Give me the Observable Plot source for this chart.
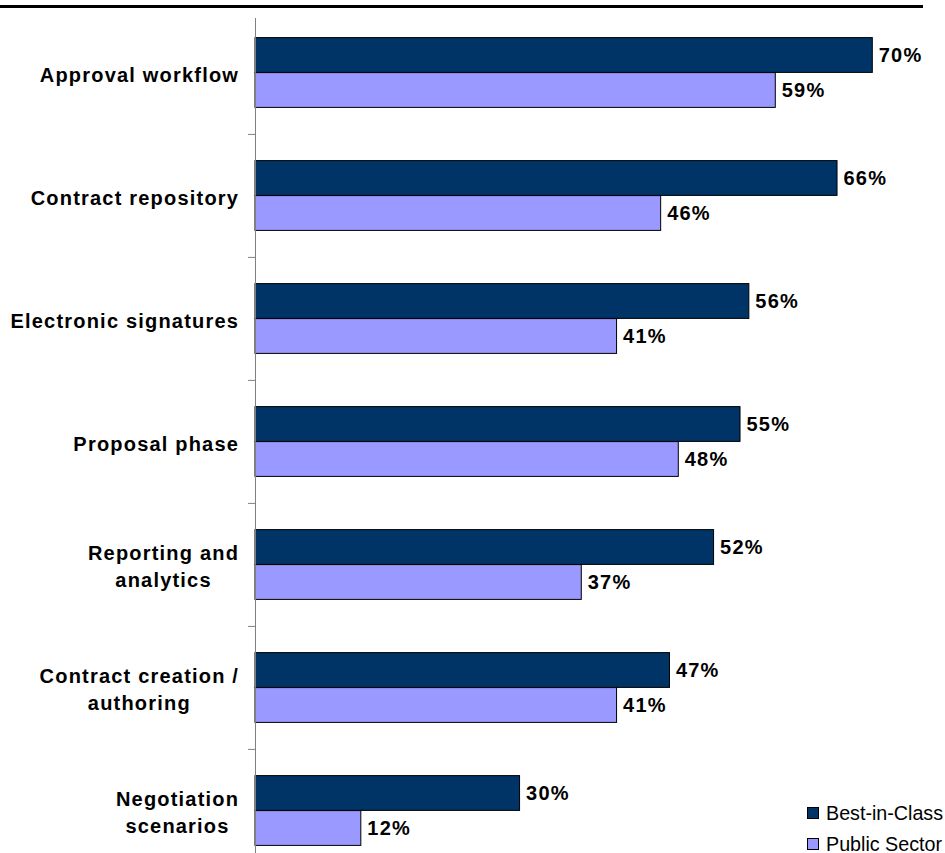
<!DOCTYPE html>
<html>
<head>
<meta charset="utf-8">
<script src="https://cdn.jsdelivr.net/npm/d3@7"></script>
<script src="https://cdn.jsdelivr.net/npm/@observablehq/plot@0.6"></script>
<style>
  html, body { margin: 0; padding: 0; background: #fff; }
  #wrap { position: relative; width: 945px; height: 853px; overflow: hidden; font-family: "Liberation Sans", Arial, sans-serif; }
  #topline { position: absolute; left: 0; top: 5px; width: 923px; height: 3px; background: #000; }
  .leg-row { position: absolute; left: 807px; height: 22px; display: flex; align-items: center; font-size: 19.7px; color: #000; white-space: nowrap; }
  .leg-sw { width: 10px; height: 10px; border: 1px solid #000; margin-right: 7px; flex: none; }
</style>
</head>
<body>
<div id="wrap"></div>
<script>
const categories = [
  "Approval workflow",
  "Contract repository",
  "Electronic signatures",
  "Proposal phase",
  "Reporting and\nanalytics",
  "Contract creation /\nauthoring",
  "Negotiation\nscenarios"
];
const series = ["Best-in-Class", "Public Sector"];
const bestInClass = [70, 66, 56, 55, 52, 47, 30];
const publicSector = [59, 46, 41, 48, 37, 41, 12];
const colors = ["#003366", "#9999FF"];

const best = categories.map((c, i) => ({category: c, series: series[0], value: bestInClass[i]}));
const pub = categories.map((c, i) => ({category: c, series: series[1], value: publicSector[i]}));

const FONT = '"Liberation Sans", Arial, sans-serif';
const LS = 1.2;
const ctx = document.createElement("canvas").getContext("2d");
ctx.font = `bold 20px ${FONT}`;
function blockWidth(label) {
  return Math.max(...label.split("\n").map(l => ctx.measureText(l).width + LS * (l.length - 1)));
}

const labelMarks = categories.map(c => Plot.text([c], {
  y: d => d, text: d => d, frameAnchor: "left", textAnchor: "middle",
  dx: -17 - blockWidth(c) / 2, lineHeight: 1.35, fontSize: 20, fontWeight: "bold", fill: "#000"
}));

const chart = Plot.plot({
  width: 945,
  height: 853,
  marginTop: 18,
  marginBottom: 0,
  marginLeft: 255,
  marginRight: 0,
  style: {fontFamily: FONT, letterSpacing: LS + "px", background: "#fff"},
  x: {domain: [0, 70], range: [255, 872.3], axis: null},
  y: {domain: categories, range: [10, 872.4], padding: 0, axis: null},
  color: {domain: series, range: colors},
  marks: [
    Plot.barX(best, {x: "value", y: "category", fill: "series", stroke: "#000", strokeWidth: 1, insetTop: 26.6, insetBottom: 61.6}),
    Plot.barX(pub, {x: "value", y: "category", fill: "series", stroke: "#000", strokeWidth: 1, insetTop: 61.6, insetBottom: 26.6}),
    Plot.ruleX([0], {stroke: "#808080", strokeWidth: 1}),
    Plot.ruleY(categories.slice(1), {y: d => d, dy: -61.6, x1: -0.8, x2: 0, stroke: "#808080", strokeWidth: 1}),
    Plot.text(best, {x: "value", y: "category", text: d => d.value + "%", dx: 6, dy: -17.5, textAnchor: "start", fontSize: 20, fontWeight: "bold", fill: "#000"}),
    Plot.text(pub, {x: "value", y: "category", text: d => d.value + "%", dx: 6, dy: 17.5, textAnchor: "start", fontSize: 20, fontWeight: "bold", fill: "#000"}),
    ...labelMarks
  ]
});

const wrap = document.getElementById("wrap");
wrap.appendChild(chart);
const topLine = document.createElement("div");
topLine.id = "topline";
wrap.appendChild(topLine);
const legendTops = [802, 833];
series.forEach((s, i) => {
  const row = document.createElement("div");
  row.className = "leg-row";
  row.style.top = legendTops[i] + "px";
  const sw = document.createElement("span");
  sw.className = "leg-sw";
  sw.style.background = colors[i];
  const tx = document.createElement("span");
  tx.textContent = s;
  row.appendChild(sw);
  row.appendChild(tx);
  wrap.appendChild(row);
});
</script>
</body>
</html>
